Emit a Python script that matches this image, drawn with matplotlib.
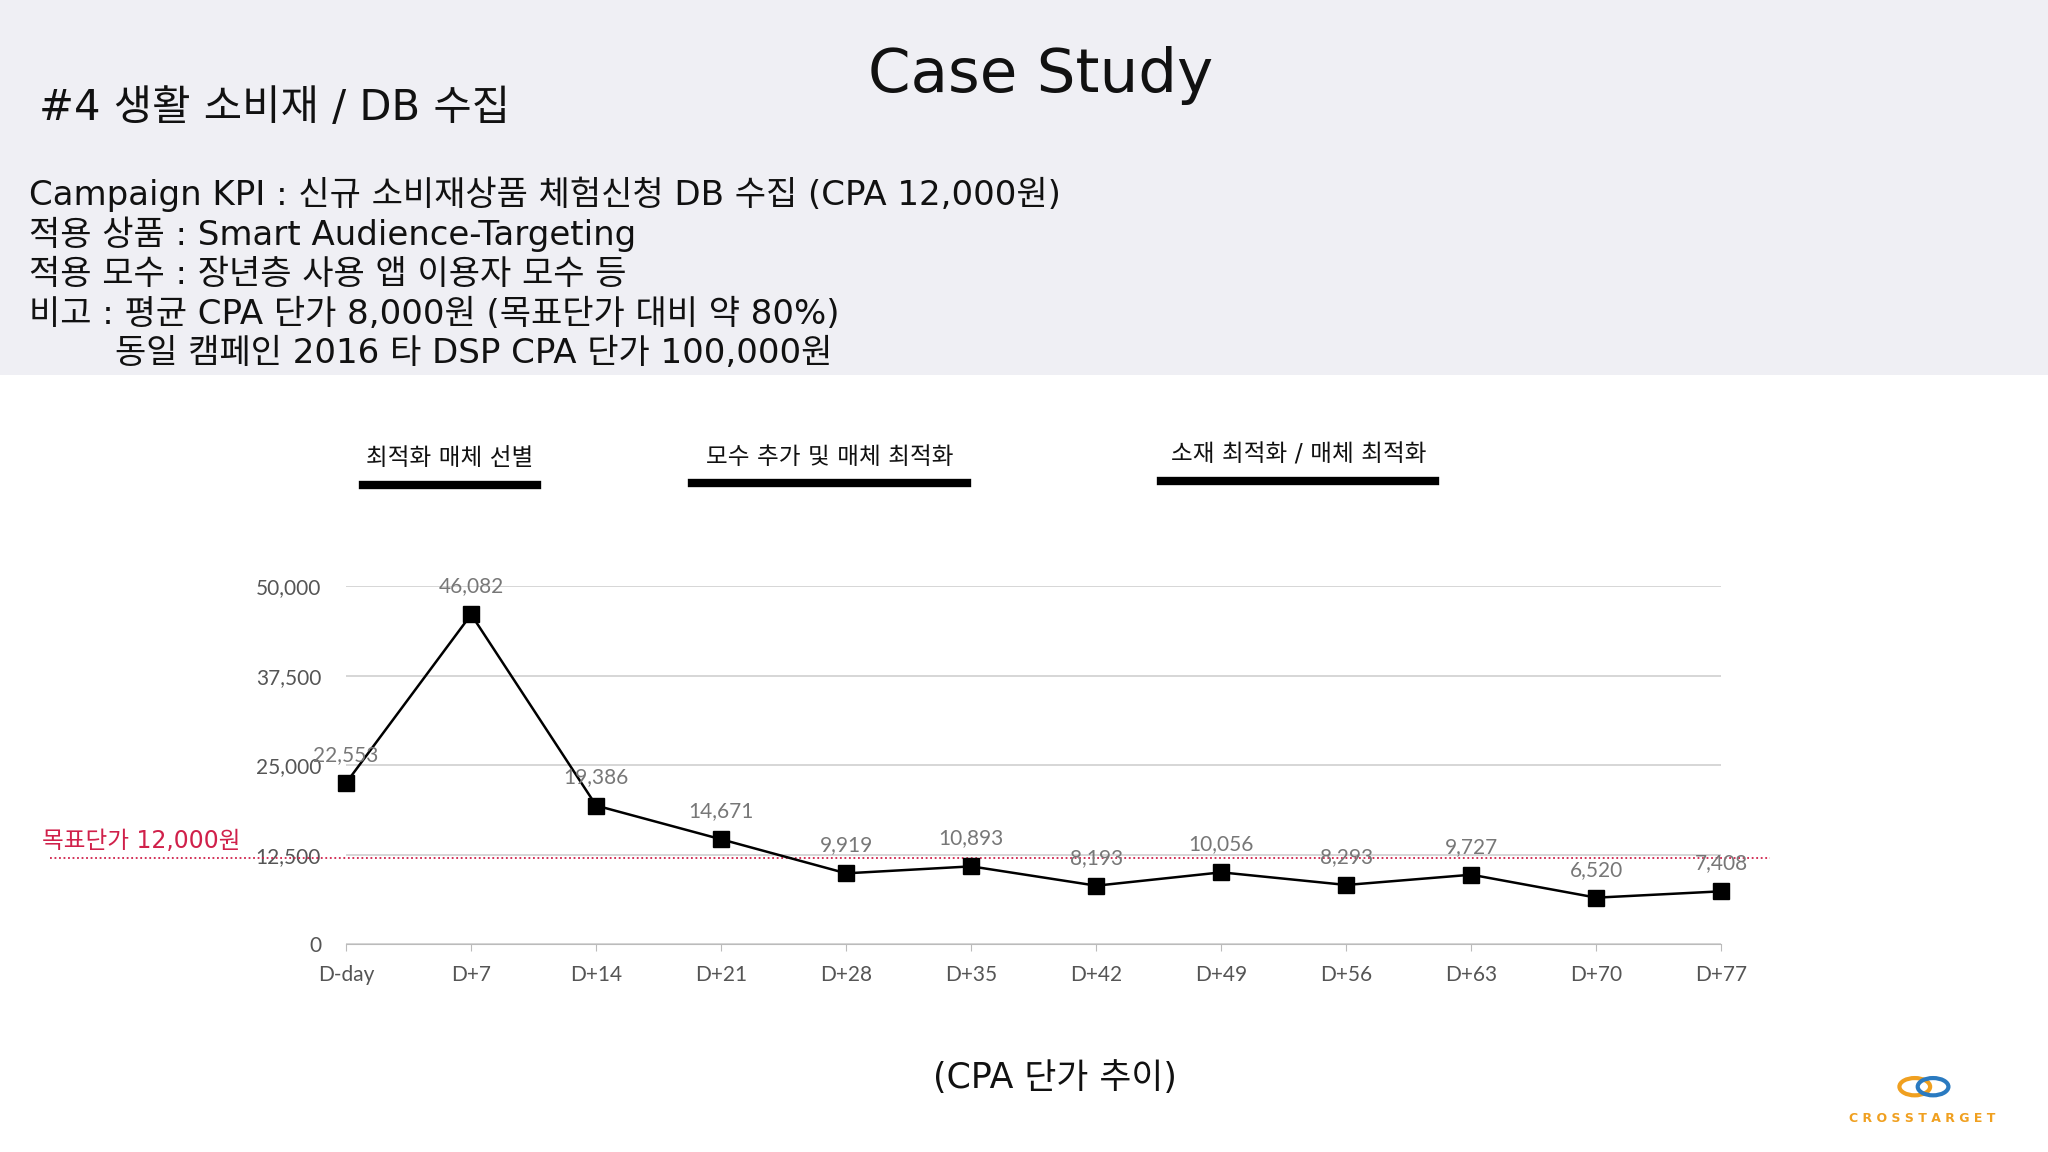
import matplotlib
matplotlib.use("Agg")
import matplotlib.pyplot as plt
import matplotlib.patches as mp
from matplotlib.lines import Line2D
from matplotlib.transforms import blended_transform_factory

WIDE = ["DejaVu Sans", "Noto Sans CJK KR"]
plt.rcParams["font.family"] = WIDE

days = ["D-day", "D+7", "D+14", "D+21", "D+28", "D+35", "D+42", "D+49", "D+56", "D+63", "D+70", "D+77"]
cpa = [22553, 46082, 19386, 14671, 9919, 10893, 8193, 10056, 8293, 9727, 6520, 7408]
yticks = [0, 12500, 25000, 37500, 50000]
target = 12000
phases = [("최적화 매체 선별", 278, 411, 371), ("모수 추가 및 매체 최적화", 530, 740, 370),
          ("소재 최적화 / 매체 최적화", 889, 1099, 368)]

W, H = 1568, 882
def fx(x): return x / W
def fy(y): return 1 - y / H

fig = plt.figure(figsize=(20.48, 11.52), dpi=100, facecolor="white")
fig.add_artist(mp.Rectangle((0, fy(287)), 1, 1 - fy(287), transform=fig.transFigure, fc="#efeff4", ec="none", zorder=0))

fig.text(fx(797), fy(58), "Case Study", ha="center", va="center", fontsize=44, color="#111")
fig.text(fx(30), fy(83), "#4 생활 소비재 / DB 수집", ha="left", va="center", fontsize=30, color="#111")
info = ["Campaign KPI : 신규 소비재상품 체험신청 DB 수집 (CPA 12,000원)",
        "적용 상품 : Smart Audience-Targeting",
        "적용 모수 : 장년층 사용 앱 이용자 모수 등",
        "비고 : 평균 CPA 단가 8,000원 (목표단가 대비 약 80%)",
        "        동일 캠페인 2016 타 DSP CPA 단가 100,000원"]
for i, t in enumerate(info):
    fig.text(fx(22), fy(149 + i * 30.5), t, ha="left", va="center", fontsize=24.5, color="#111")

for label, x0, x1, yb in phases:
    fig.add_artist(Line2D([fx(x0), fx(x1)], [fy(yb), fy(yb)], lw=6, color="black", transform=fig.transFigure))
    fig.text(fx((x0 + x1) / 2), fy(yb - 20), label, ha="center", va="center", fontsize=17, color="#111")

ax = fig.add_axes([fx(265), fy(723), fx(1318) - fx(265), fy(449) - fy(723)])
x = list(range(len(days)))
ax.plot(x, cpa, color="black", lw=1.8, marker="s", ms=11, zorder=3, clip_on=False)
ax.set_xlim(0, len(days) - 1)
ax.set_ylim(0, 50000)
ax.set_yticks(yticks)
ax.set_yticklabels([f"{v:,}" for v in yticks], family=["Lato", "DejaVu Sans"], fontsize=15, color="#555")
ax.set_xticks(x)
ax.set_xticklabels(days, family=["Lato", "DejaVu Sans"], fontsize=15, color="#555")
ax.tick_params(axis="y", length=0, pad=18)
ax.tick_params(axis="x", length=5, color="#bbb", pad=10)
ax.grid(axis="y", color="#cfcfcf", lw=1.2)
for s in ["top", "right", "left"]:
    ax.spines[s].set_visible(False)
ax.spines["bottom"].set_color("#bbb")
ax.set_facecolor("none")
for xi, v in zip(x, cpa):
    ax.annotate(f"{v:,}", (xi, v), xytext=(0, 13), textcoords="offset points", ha="center", va="bottom",
                fontsize=15, color="#777", family=["Lato", "DejaVu Sans"])

tr = blended_transform_factory(fig.transFigure, ax.transData)
ax.plot([fx(38), fx(1355)], [target, target], transform=tr, clip_on=False, color="#d0204a", lw=1.3, ls=(0, (1, 1.5)))
fig.text(fx(32), fy(644), "목표단가 12,000원", ha="left", va="center", fontsize=17, color="#d0204a")

fig.text(fx(808), fy(825), "(CPA 단가 추이)", ha="center", va="center", fontsize=25, color="#111")

# logo
fig.add_artist(mp.Circle((fx(1466), fy(832)), 0.0075, transform=fig.transFigure, fill=False, ec="#f0a020", lw=3))
fig.add_artist(mp.Circle((fx(1480), fy(832)), 0.0075, transform=fig.transFigure, fill=False, ec="#2a7ac0", lw=3))
fig.text(fx(1472), fy(856), "C R O S S T A R G E T", ha="center", va="center", fontsize=9, color="#f0a020",
         fontweight="bold", family=["DejaVu Sans"])

fig.savefig("out.png", dpi=100, facecolor="white")
